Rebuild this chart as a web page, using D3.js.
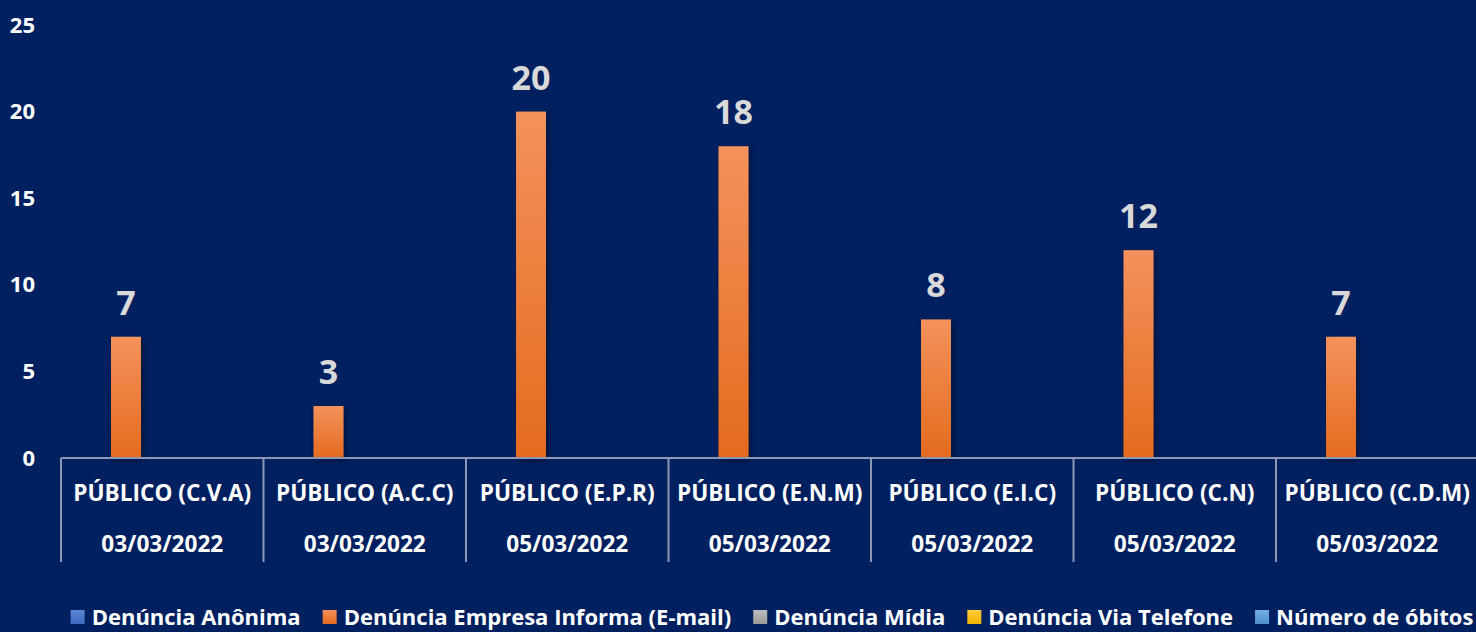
<!DOCTYPE html>
<html>
<head>
<meta charset="utf-8">
<script src="https://cdn.jsdelivr.net/npm/d3@7"></script>
<style>
  html, body { margin: 0; padding: 0; background: #002060; }
  svg { display: block; }
  text { font-family: "Open Sans", "Noto Sans", sans-serif; font-weight: 700; }
</style>
</head>
<body>
<svg id="chart" width="1476" height="632"></svg>
<script>
// ---- data ----
const categoryNames = ["PÚBLICO (C.V.A)", "PÚBLICO (A.C.C)", "PÚBLICO (E.P.R)", "PÚBLICO (E.N.M)", "PÚBLICO (E.I.C)", "PÚBLICO (C.N)", "PÚBLICO (C.D.M)"];
const categoryDates = ["03/03/2022", "03/03/2022", "05/03/2022", "05/03/2022", "05/03/2022", "05/03/2022", "05/03/2022"];
const seriesNames = ["Denúncia Anônima", "Denúncia Empresa Informa (E-mail)", "Denúncia Mídia", "Denúncia Via Telefone", "Número de óbitos"];
const anonimaValues = [null, null, null, null, null, null, null];
const emailValues = [7, 3, 20, 18, 8, 12, 7];
const midiaValues = [null, null, null, null, null, null, null];
const telefoneValues = [null, null, null, null, null, null, null];
const obitosValues = [null, null, null, null, null, null, null];
const yTicks = [0, 5, 10, 15, 20, 25];

const seriesValues = [anonimaValues, emailValues, midiaValues, telefoneValues, obitosValues];
const seriesColors = [["#5A86D6", "#3F6CC0"], ["#F4925C", "#E46B1E"], ["#BEBEBE", "#999999"], ["#FFCD3A", "#F2B400"], ["#74AEE2", "#4E8FCC"]];

const svg = d3.select("#chart");
const W = 1476, H = 632;
const plotLeft = 61, plotRight = 1478.5, baseY = 458, topY = 25;

const defs = svg.append("defs");
seriesColors.forEach((c, i) => {
  const g = defs.append("linearGradient").attr("id", "grad" + i)
    .attr("x1", 0).attr("y1", 0).attr("x2", 0).attr("y2", 1);
  g.append("stop").attr("offset", "0%").attr("stop-color", c[0]);
  g.append("stop").attr("offset", "100%").attr("stop-color", c[1]);
});
const f = defs.append("filter").attr("id", "shadow").attr("x", "-50%").attr("y", "-20%").attr("width", "200%").attr("height", "140%");
f.append("feDropShadow").attr("dx", 2).attr("dy", 2).attr("stdDeviation", 3).attr("flood-color", "#000").attr("flood-opacity", 0.45);

svg.append("rect").attr("width", W).attr("height", H).attr("fill", "#002060");

const x0 = d3.scaleBand().domain(categoryNames).range([plotLeft, plotRight]).padding(0);
const x1 = d3.scaleBand().domain(seriesNames).range([20, 170]).padding(0);
const y = d3.scaleLinear().domain([0, 25]).range([baseY, topY]);

// y axis
const yAxis = svg.append("g").attr("transform", "translate(35,0)")
  .call(d3.axisLeft(y).tickValues(yTicks).tickSize(0).tickPadding(0));
yAxis.select(".domain").remove();
yAxis.selectAll("text").attr("fill", "#FFFFFF").style("font-size", "22px")
  .style("font-family", "'Open Sans', sans-serif").style("font-weight", 700);

// bars
const rows = [];
seriesValues.forEach((vals, si) => {
  vals.forEach((v, ci) => {
    if (v != null && v > 0) rows.push({ s: si, c: ci, v: v });
  });
});
svg.append("g").selectAll("rect").data(rows).join("rect")
  .attr("x", d => x0(categoryNames[d.c]) + x1(seriesNames[d.s]))
  .attr("y", d => y(d.v))
  .attr("width", x1.bandwidth())
  .attr("height", d => y(0) - y(d.v))
  .attr("fill", d => "url(#grad" + d.s + ")")
  .attr("filter", "url(#shadow)");

// value labels
svg.append("g").selectAll("text").data(rows).join("text")
  .attr("x", d => x0(categoryNames[d.c]) + x1(seriesNames[d.s]) + x1.bandwidth() / 2)
  .attr("y", d => y(d.v) - 22)
  .attr("text-anchor", "middle")
  .attr("fill", "#D9D9D9")
  .style("font-size", "34px")
  .text(d => d.v);

// x axis
const xAxisG = svg.append("g").attr("transform", `translate(0,${baseY})`)
  .call(d3.axisBottom(x0).tickSize(0).tickPadding(0));
xAxisG.select(".domain").remove();
xAxisG.selectAll(".tick text").each(function (d, i) {
  const t = d3.select(this);
  t.text(null).attr("y", 0).attr("dy", null).attr("fill", "#FFFFFF")
    .style("font-size", "22.6px").style("font-family", "'Open Sans', sans-serif").style("font-weight", 700);
  t.append("tspan").attr("x", 0).attr("y", 43).text(d);
  t.append("tspan").attr("x", 0).attr("y", 94).text(categoryDates[i]);
});

const lineColor = "#8C98B5";
svg.append("line").attr("x1", plotLeft).attr("x2", plotRight).attr("y1", baseY).attr("y2", baseY)
  .attr("stroke", lineColor).attr("stroke-width", 2);
const bounds = categoryNames.map(c => x0(c)).concat([plotRight]);
svg.append("g").selectAll("line").data(bounds).join("line")
  .attr("x1", d => d).attr("x2", d => d).attr("y1", baseY).attr("y2", 562)
  .attr("stroke", lineColor).attr("stroke-width", 2);

// legend
const legend = svg.append("g");
const items = legend.selectAll("g").data(seriesNames).join("g");
items.append("rect").attr("width", 14).attr("height", 14).attr("y", -7)
  .attr("fill", (d, i) => "url(#grad" + i + ")");
items.append("text").attr("x", 21).attr("y", 0).attr("dy", "0.36em")
  .attr("fill", "#FFFFFF").style("font-size", "22px").text(d => d);
let xpos = 0;
items.each(function () {
  const g = d3.select(this);
  const w = g.select("text").node().getComputedTextLength();
  g.attr("transform", `translate(${xpos},0)`);
  xpos += 21 + w + 22;
});
const total = xpos - 22;
const startX = 772 - total / 2;
legend.attr("transform", `translate(${startX},617)`);
</script>
</body>
</html>
